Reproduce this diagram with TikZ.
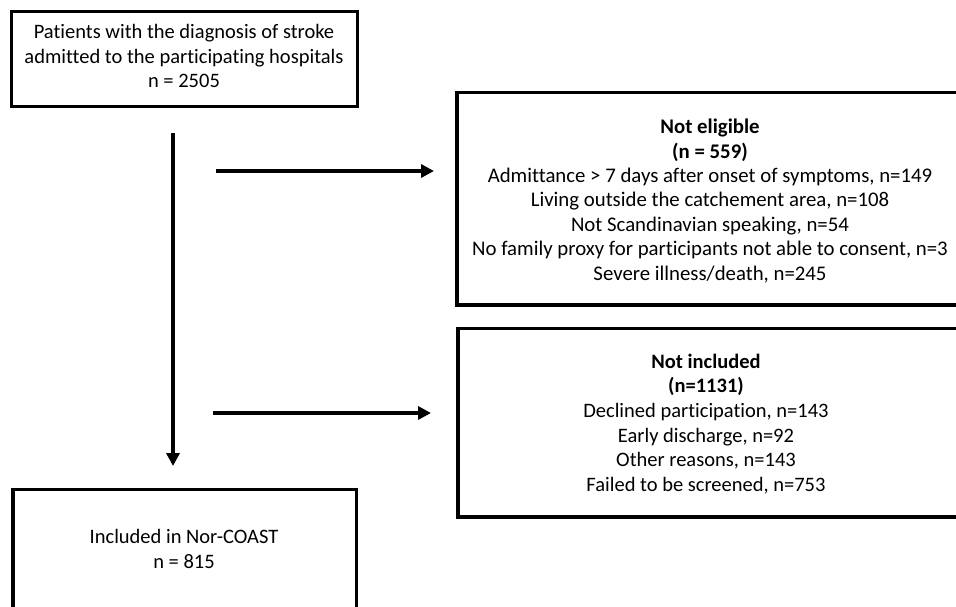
\documentclass[tikz,border=0pt]{standalone}
\usepackage{fontspec}
\setmainfont{Carlito}[Ligatures=NoCommon]
\usetikzlibrary{arrows.meta}
\begin{document}
\begin{tikzpicture}[x=1pt,y=-1pt,
  box/.style={draw=black,line width=3.8pt,fill=none},
  txt/.style={align=center,inner sep=0pt,font=\fontsize{20.5}{24.6}\selectfont},
  txtb/.style={align=center,inner sep=0pt,font=\fontsize{20.8}{24.4}\selectfont},
  flow/.style={line width=4pt,-{Triangle[length=13pt,width=13pt]}}]
\useasboundingbox (0,0) rectangle (956,606);
\clip (0,0) rectangle (956,606);
% boxes
\draw[box] (11.5,11.5) rectangle (357.5,106.5);
\draw[box] (457,92.5) rectangle (990,305);
\draw[box] (458,328.5) rectangle (990,517);
\draw[box] (13,489.5) rectangle (356.5,640);
% texts
\node[txt] (start) at (184,56) {Patients with the diagnosis of stroke\\admitted to the participating hospitals\\n = 2505};
\node[txtb] (noteli) at (710,201) {\textbf{Not eligible}\\\textbf{(n = 559)}\\Admittance > 7 days after onset of symptoms, n=149\\Living outside the catchement area, n=108\\Not Scandinavian speaking, n=54\\No family proxy for participants not able to consent, n=3\\Severe illness/death, n=245};
\node[txt] (notinc) at (706,424) {\textbf{Not included}\\\textbf{(n=1131)}\\Declined participation, n=143\\Early discharge, n=92\\Other reasons, n=143\\Failed to be screened, n=753};
\node[txt] (incl) at (184,549) {Included in Nor-COAST\\n = 815};
% connectors
\coordinate (v1) at (173,133);
\coordinate (v2) at (173,466);
\coordinate (h1a) at (216,171);
\coordinate (h1b) at (434,171);
\coordinate (h2a) at (213,413);
\coordinate (h2b) at (431,413);
\draw[flow] (v1) -- (v2);
\draw[flow] (h1a) -- (h1b);
\draw[flow] (h2a) -- (h2b);
\end{tikzpicture}
\end{document}
